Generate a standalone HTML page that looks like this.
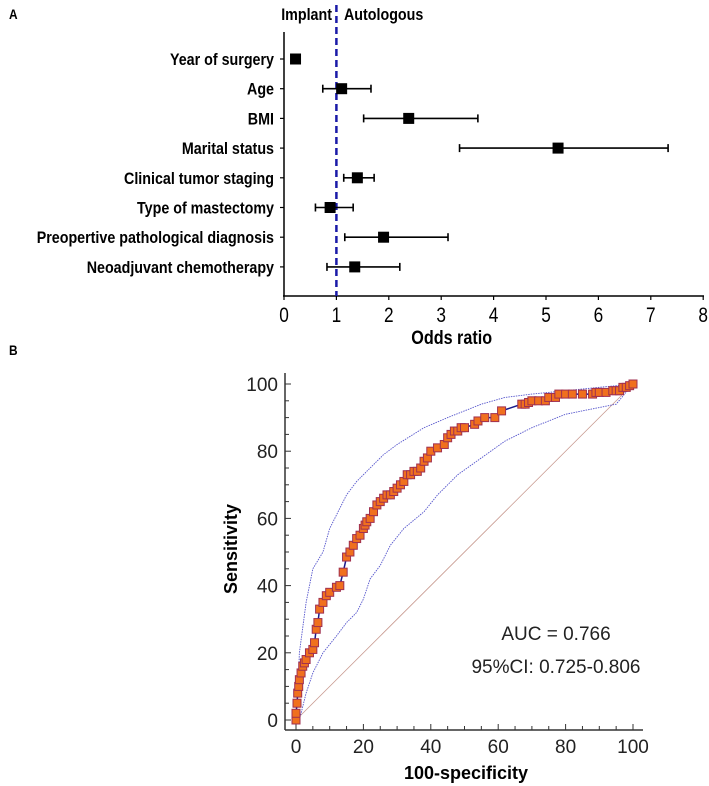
<!DOCTYPE html>
<html><head><meta charset="utf-8"><style>
html,body{margin:0;padding:0;background:#fff;}
svg{display:block;font-family:"Liberation Sans",Arial,sans-serif;}
</style></head><body>
<svg id="chart" width="709" height="786" viewBox="0 0 709 786"></svg>
<script>
// Forest plot data
const labels=["Year of surgery","Age","BMI","Marital status","Clinical tumor staging","Type of mastectomy","Preopertive pathological diagnosis","Neoadjuvant chemotherapy"];
const orVals=[0.22,1.1,2.38,5.23,1.4,0.88,1.9,1.35];
const ciLow=[0.15,0.74,1.52,3.35,1.14,0.6,1.16,0.82];
const ciHigh=[0.28,1.66,3.7,7.33,1.72,1.32,3.13,2.21];
const orTicks=[0,1,2,3,4,5,6,7,8];
// ROC data
const rocX=[0,0,0.3,0.5,0.8,1,1.5,2,2.5,3,4,5,5.5,6,6.5,7,8,9,10,12,13,14,15,16,17,18,19,20,20.5,21,22,23,24,25,26,27,28,29,30,31,32,33,34,35,36,37,38,39,40,42,44,45,46,47,48,49,50,53,54,56,59,61,67,68,69,70,72,74,75,77,78,80,82,85,88,89,90,92,94,95,96,97,98,99,100];
const rocY=[0,2,5,8,10,12,14,16,17,18,20,21,23,27,29,33,35,37,38,39.5,40,44,48.5,50,52,54,55,57,58,59,60,62,64,65,66,67,67,68,69,70,71,73,73,74,74,75,77,78,80,81,82,84,85,86,86,87,87,88,89,90,90,92,94,94,94.5,95,95,95,96,96,97,97,97,97,97,97.5,97.5,97.5,98,98,98,99,99,99.5,100];
const upX=[0,0.5,1,3,5,8,10,13,15,18,22,26,30,38,45,55,62,70,80,90,100];
const upY=[0,5,20,35,45,50,57,63,67,71,75,79,82,87,90,94,96,97,98,99,100];
const loX=[1,3,5,8,12,15,18,20,22,25,28,32,38,42,48,55,62,70,80,90,95,100];
const loY=[0,8,14,20,25,29,32,36,42,46,52,57,62,67,73,78,83,87,91,93,94,100];
const rocTicks=[0,20,40,60,80,100];

const NS="http://www.w3.org/2000/svg";
const svg=document.getElementById('chart');
function mk(tag,attrs,parent,text){const e=document.createElementNS(NS,tag);for(const k in attrs)e.setAttribute(k,attrs[k]);if(text!==undefined)e.textContent=text;(parent||svg).appendChild(e);return e;}
const narrowList=[];
function narrow(el,f){narrowList.push([el,f]);}

// ---- Panel A ----
const fx=v=>284+v*52.4;
const rowY=i=>59+i*29.7;
let t=mk('text',{x:9,y:19,'font-size':14,'font-weight':'bold'},svg,'A');

narrow(t,0.85);
t=mk('text',{x:332,y:20,'font-size':17,'font-weight':'bold','text-anchor':'end'},svg,'Implant');

narrow(t,0.84);
t=mk('text',{x:344,y:20,'font-size':17,'font-weight':'bold'},svg,'Autologous');

narrow(t,0.84);
let l=mk('line',{x1:284,y1:32,x2:284,y2:296,stroke:'#000','stroke-width':1.5});

l=mk('line',{x1:283,y1:296,x2:704,y2:296,stroke:'#000','stroke-width':1.5});

orTicks.forEach(v=>{
  const tk=mk('line',{x1:fx(v),y1:296,x2:fx(v),y2:300,stroke:'#000','stroke-width':1.2});
  
  const tl=mk('text',{x:fx(v),y:322,'font-size':21,'text-anchor':'middle'},svg,String(v));
  
  narrow(tl,0.82);
});
t=mk('text',{x:fx(3.2),y:344,'font-size':19,'font-weight':'bold','text-anchor':'middle'},svg,'Odds ratio');

narrow(t,0.85);
l=mk('line',{x1:fx(1),y1:5,x2:fx(1),y2:296,stroke:'#1a1aa8','stroke-width':2.5,'stroke-dasharray':'7,4'});

labels.forEach((lab,i)=>{
  const y=rowY(i);
  const tl=mk('text',{x:274,y:y+6,'font-size':17,'font-weight':'bold','text-anchor':'end'},svg,lab);
  
  narrow(tl,0.84);
  const tk=mk('line',{x1:280,y1:y,x2:284,y2:y,stroke:'#000','stroke-width':1.2});
  
  const g=mk('g',{});
  
  mk('line',{x1:fx(ciLow[i]),y1:y,x2:fx(ciHigh[i]),y2:y,stroke:'#000','stroke-width':1.6},g);
  mk('line',{x1:fx(ciLow[i]),y1:y-4,x2:fx(ciLow[i]),y2:y+4,stroke:'#000','stroke-width':1.6},g);
  mk('line',{x1:fx(ciHigh[i]),y1:y-4,x2:fx(ciHigh[i]),y2:y+4,stroke:'#000','stroke-width':1.6},g);
  mk('rect',{x:fx(orVals[i])-5.5,y:y-5.5,width:11,height:11,fill:'#000'},g);
});

// ---- Panel B ----
const rx=v=>296+v*3.37;
const ry=v=>720-v*3.36;
t=mk('text',{x:9,y:355,'font-size':14,'font-weight':'bold'},svg,'B');

narrow(t,0.85);
l=mk('line',{x1:285,y1:373,x2:285,y2:730,stroke:'#333','stroke-width':1.5});

l=mk('line',{x1:285,y1:730,x2:643,y2:730,stroke:'#333','stroke-width':1.5});

for(let v=0;v<=100;v+=5){
  const major=v%20===0;
  const a=mk('line',{x1:285,y1:ry(v),x2:285+(major?6:4),y2:ry(v),stroke:'#333','stroke-width':1});
  
  const b=mk('line',{x1:rx(v),y1:730,x2:rx(v),y2:730-(major?6:4),stroke:'#333','stroke-width':1});
  
}
rocTicks.forEach(v=>{
  const a=mk('text',{x:278,y:ry(v)+7,'font-size':19,'text-anchor':'end',fill:'#222'},svg,String(v));
  
  const b=mk('text',{x:rx(v),y:753,'font-size':19,'text-anchor':'middle',fill:'#222'},svg,String(v));
  
});
t=mk('text',{x:466,y:779,'font-size':18,'font-weight':'bold','text-anchor':'middle'},svg,'100-specificity');

t=mk('text',{x:0,y:0,'font-size':18,'font-weight':'bold','text-anchor':'middle',transform:'translate(237,549) rotate(-90)'},svg,'Sensitivity');

l=mk('line',{x1:rx(0),y1:ry(0),x2:rx(100),y2:ry(100),stroke:'#c89a90','stroke-width':0.8});

const pts=(xs,ys)=>xs.map((x,i)=>rx(x)+','+ry(ys[i])).join(' ');
let p=mk('polyline',{points:pts(upX,upY),fill:'none',stroke:'#5555cc','stroke-width':0.9,'stroke-dasharray':'1.5,1'});

p=mk('polyline',{points:pts(loX,loY),fill:'none',stroke:'#5555cc','stroke-width':0.9,'stroke-dasharray':'1.5,1'});

p=mk('polyline',{points:pts(rocX,rocY),fill:'none',stroke:'#1a1a8a','stroke-width':1.5});

rocX.forEach((x,i)=>{
  const r=mk('rect',{x:rx(x)-4,y:ry(rocY[i])-4,width:8,height:8,fill:'#f0701e',stroke:'#a03050','stroke-width':1});
  
});
t=mk('text',{x:556,y:640,'font-size':19,'text-anchor':'middle',fill:'#222'},svg,'AUC = 0.766');

t=mk('text',{x:556,y:673,'font-size':19,'text-anchor':'middle',fill:'#222'},svg,'95%CI: 0.725-0.806');


narrowList.forEach(([el,f])=>{
  const w=el.getComputedTextLength();
  el.setAttribute('textLength',(w*f).toFixed(1));
  el.setAttribute('lengthAdjust','spacingAndGlyphs');
});
</script>
</body></html>
